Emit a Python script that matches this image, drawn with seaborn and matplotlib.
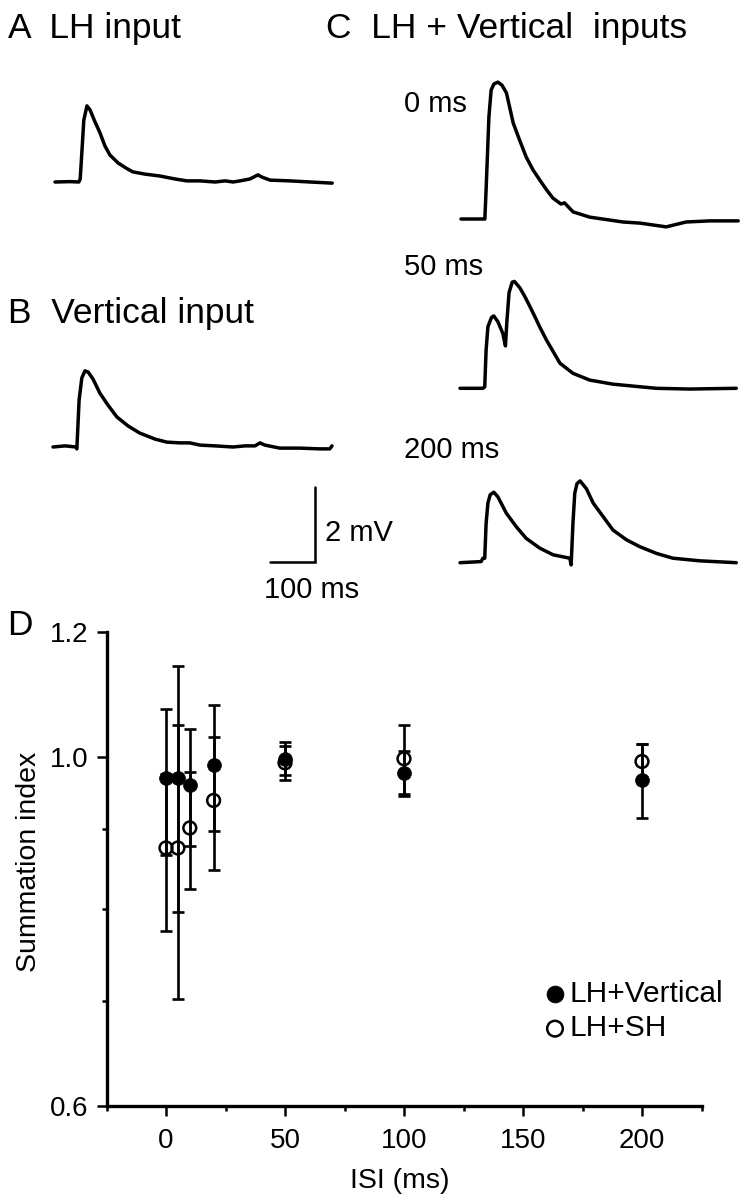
import matplotlib
matplotlib.use("Agg")
import matplotlib.pyplot as plt
from matplotlib.ticker import FixedLocator, NullFormatter
import seaborn as sns
import pandas as pd

# recorded traces: time (ms from sweep start), voltage (mV above baseline)
lh_t = [0, 33, 53, 56, 60, 64, 71, 78, 89, 100, 111, 122, 140, 158, 173, 200, 233, 267, 293, 322,
        356, 378, 396, 411, 433, 451, 460, 478, 522, 567, 616]
lh_v = [0, 0.01, 0, 0.08, 0.85, 1.65, 2.03, 1.92, 1.6, 1.31, 0.96, 0.72, 0.51, 0.37, 0.27, 0.21,
        0.16, 0.08, 0.03, 0.03, 0, 0.03, 0, 0.03, 0.08, 0.19, 0.13, 0.05, 0.03, 0, -0.03]

vert_t = [0, 27, 51, 53, 58, 64, 71, 78, 89, 104, 122, 142, 167, 193, 227, 253, 282, 304, 327,
          360, 400, 427, 449, 460, 471, 504, 549, 593, 615, 620]
vert_v = [0, 0.03, 0, -0.05, 1.25, 1.84, 2.03, 2.0, 1.81, 1.44, 1.12, 0.8, 0.56, 0.37, 0.21, 0.13,
          0.11, 0.11, 0.05, 0.03, 0, 0.03, 0.03, 0.11, 0.05, -0.03, -0.03, -0.05, -0.05, 0.03]

c0_t = [0, 31, 51, 53, 56, 62, 67, 73, 82, 91, 101, 116, 130, 145, 160, 175, 190, 204, 222, 230,
        249, 286, 360, 398, 456, 500, 553, 616]
c0_v = [0, 0, 0, 0, 0.85, 2.72, 3.44, 3.6, 3.65, 3.57, 3.36, 2.56, 2.11, 1.65, 1.31, 1.04, 0.78,
        0.56, 0.4, 0.43, 0.19, 0.05, -0.08, -0.11, -0.21, -0.08, -0.05, -0.05]

c50_t = [0, 51, 55, 58, 62, 70, 75, 84, 95, 101, 104, 109, 116, 121, 133, 144, 155, 166, 177, 192,
         222, 251, 288, 340, 436, 510, 614]
c50_v = [0, 0, 0.04, 1.02, 1.64, 1.89, 1.93, 1.78, 1.47, 1.13, 1.75, 2.55, 2.83, 2.85, 2.68, 2.45,
         2.19, 1.92, 1.64, 1.29, 0.67, 0.40, 0.22, 0.11, 0, -0.02, 0]

c200_t = [0, 47, 51, 55, 58, 62, 67, 75, 84, 103, 125, 147, 177, 207, 244, 247, 251, 255, 260,
          267, 281, 296, 318, 340, 370, 399, 436, 473, 533, 614]
c200_v = [0, 0.03, 0.12, 0.12, 1.05, 1.59, 1.81, 1.88, 1.76, 1.32, 0.96, 0.65, 0.39, 0.21, 0.12,
          -0.06, 1.05, 1.85, 2.11, 2.18, 1.97, 1.59, 1.23, 0.87, 0.61, 0.43, 0.25, 0.12, 0.05, 0]

scale_ms = 100
scale_mv = 2

# summation index vs ISI
isi = [0, 5, 10, 20, 50, 100, 200]
lh_vert = [0.969, 0.969, 0.959, 0.988, 0.997, 0.976, 0.966]
lh_vert_err = [0.103, 0.172, 0.082, 0.091, 0.024, 0.032, 0.052]
lh_sh = [0.875, 0.875, 0.901, 0.938, 0.991, 0.997, 0.993]
lh_sh_err = [0.100, 0.173, 0.077, 0.091, 0.025, 0.050, 0.025]

W, H = 746, 1199


def fx(x):
    return x / W


def fy(y):
    return 1 - y / H


sns.set_theme(style="ticks", rc={"axes.edgecolor": "black", "xtick.color": "black",
                                 "ytick.color": "black", "text.color": "black",
                                 "axes.labelcolor": "black"})
plt.rcParams["font.family"] = ["Liberation Sans", "DejaVu Sans"]

fig = plt.figure(figsize=(W / 100, H / 100), dpi=100)

# ---- traces (A, B, C) on one axes with a shared ms / mV scale
PX_MS, PX_MV, TOP = 0.45, 37.5, 600
tr = fig.add_axes([0, fy(TOP), 1, TOP / H])

# (time, voltage, left px, baseline px)
traces = [
    (lh_t, lh_v, 55, 182),
    (vert_t, vert_v, 53, 447),
    (c0_t, c0_v, 461, 219),
    (c50_t, c50_v, 460, 388.3),
    (c200_t, c200_v, 460, 562.7),
]
for t, v, x0, y0 in traces:
    df = pd.DataFrame({"t": [ti + x0 / PX_MS for ti in t],
                       "v": [vi + (TOP - y0) / PX_MV for vi in v]})
    sns.lineplot(data=df, x="t", y="v", sort=False, estimator=None,
                 color="black", lw=2.5, ax=tr, solid_joinstyle="round",
                 solid_capstyle="round")

# scale bar, corner at (315, 562) px
cx, cy = 315 / PX_MS, (TOP - 562) / PX_MV
tr.plot([cx - scale_ms, cx, cx], [cy, cy, cy + scale_mv], color="black", lw=1.8,
        solid_joinstyle="miter")
tr.set_xlim(0, W / PX_MS)
tr.set_ylim(0, TOP / PX_MV)
tr.axis("off")

title_fs = 25.5
fig.text(fx(8), fy(38), "A  LH input", fontsize=title_fs, va="baseline")
fig.text(fx(8), fy(323), "B  Vertical input", fontsize=title_fs, va="baseline")
fig.text(fx(326), fy(38), "C  LH + Vertical  inputs", fontsize=title_fs, va="baseline")
fig.text(fx(404), fy(112), "0 ms", fontsize=21, va="baseline")
fig.text(fx(404), fy(275), "50 ms", fontsize=21, va="baseline")
fig.text(fx(404), fy(458), "200 ms", fontsize=21, va="baseline")
fig.text(fx(325), fy(541), "2 mV", fontsize=21, va="baseline")
fig.text(fx(264), fy(598), "100 ms", fontsize=21, va="baseline")
fig.text(fx(7), fy(635), "D", fontsize=title_fs, va="baseline")

# ---- panel D
ax = fig.add_axes([fx(106.5), fy(1106), 595 / W, 474 / H])
ax.set_yscale("log")

ax.errorbar(isi, lh_vert, yerr=lh_vert_err, fmt="none", ecolor="black",
            elinewidth=1.9, capsize=4, capthick=1.9, zorder=2)
ax.errorbar(isi, lh_sh, yerr=lh_sh_err, fmt="none", ecolor="black",
            elinewidth=1.9, capsize=4, capthick=1.9, zorder=2)
sns.scatterplot(x=isi, y=lh_vert, ax=ax, s=100, color="black", edgecolor="black",
                linewidth=0.5, label="LH+Vertical", zorder=4)
sns.scatterplot(x=isi, y=lh_sh, ax=ax, s=85, color="black", edgecolor="black",
                linewidth=1.8, label="LH+SH", zorder=3)
ax.collections[-1].set_facecolor("none")

ax.set_xlim(-25, 225)
ax.set_ylim(0.6, 1.2)
ax.set_xticks([0, 50, 100, 150, 200])
ax.xaxis.set_minor_locator(FixedLocator([-25, 25, 75, 125, 175, 225]))
ax.yaxis.set_major_locator(FixedLocator([0.6, 1.0, 1.2]))
ax.set_yticklabels(["0.6", "1.0", "1.2"])
ax.yaxis.set_minor_locator(FixedLocator([0.7, 0.8, 0.9]))
ax.yaxis.set_minor_formatter(NullFormatter())

sns.despine(ax=ax)
for side in ["left", "bottom"]:
    ax.spines[side].set_linewidth(2.4)
ax.tick_params(which="major", direction="out", length=7, width=1.8, labelsize=20)
ax.tick_params(which="minor", direction="out", length=3.5, width=1.8)
ax.tick_params(axis="x", which="major", pad=9)
ax.tick_params(axis="y", which="major", pad=6)

ax.set_xlabel("ISI (ms)", fontsize=20.5)
ax.xaxis.set_label_coords(0.493, -0.13)
ax.set_ylabel("Summation index", fontsize=20.5)
ax.yaxis.set_label_coords(-0.108, 0.515)

handles, labels = ax.get_legend_handles_labels()
ax.legend(handles, labels, loc="upper left", bbox_to_anchor=(0.7387, 0.266),
          frameon=False, fontsize=21.5, handlelength=0.6, handletextpad=0.17,
          labelspacing=0.22, borderpad=0, borderaxespad=0, markerscale=1.22)

fig.savefig("out.png", dpi=100)
